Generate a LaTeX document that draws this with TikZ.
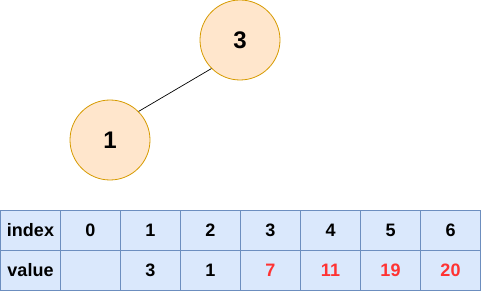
\documentclass[tikz,border=0pt]{standalone}
\usepackage{fontspec}
\setmainfont{Liberation Sans}
\definecolor{nodefill}{HTML}{FFE6CC}
\definecolor{nodeline}{HTML}{D79B00}
\definecolor{cellfill}{HTML}{DAE8FC}
\definecolor{cellline}{HTML}{6C8EBF}
\definecolor{redtxt}{HTML}{FF3333}
\tikzset{
  treenode/.style={circle, draw=nodeline, fill=nodefill, line width=0.8pt, minimum size=80pt, inner sep=0pt, font=\fontsize{24}{24}\selectfont\bfseries},
  cell/.style={rectangle, draw=cellline, fill=cellfill, line width=0.8pt, minimum width=60pt, minimum height=40pt, inner sep=0pt, font=\fontsize{18}{18}\selectfont\bfseries},
  redcell/.style={cell, text=redtxt}
}
\begin{document}
\begin{tikzpicture}[x=1pt,y=-1pt]
\useasboundingbox (0,0) rectangle (481,291);
\node[treenode] (n3) at (240,40) {3};
\node[treenode] (n1) at (110,140) {1};
\draw[line width=0.7pt] (n1.north east) -- (n3.south west);
% index row
\node[cell] (i0) at (30.5,230) {index};
\node[cell] (i1) at (90.5,230) {0};
\node[cell] (i2) at (150.5,230) {1};
\node[cell] (i3) at (210.5,230) {2};
\node[cell] (i4) at (270.5,230) {3};
\node[cell] (i5) at (330.5,230) {4};
\node[cell] (i6) at (390.5,230) {5};
\node[cell] (i7) at (450.5,230) {6};
% value row
\node[cell] (v0) at (30.5,270) {value};
\node[cell] (v1) at (90.5,270) {};
\node[cell] (v2) at (150.5,270) {3};
\node[cell] (v3) at (210.5,270) {1};
\node[redcell] (v4) at (270.5,270) {7};
\node[redcell] (v5) at (330.5,270) {11};
\node[redcell] (v6) at (390.5,270) {19};
\node[redcell] (v7) at (450.5,270) {20};
\end{tikzpicture}
\end{document}
